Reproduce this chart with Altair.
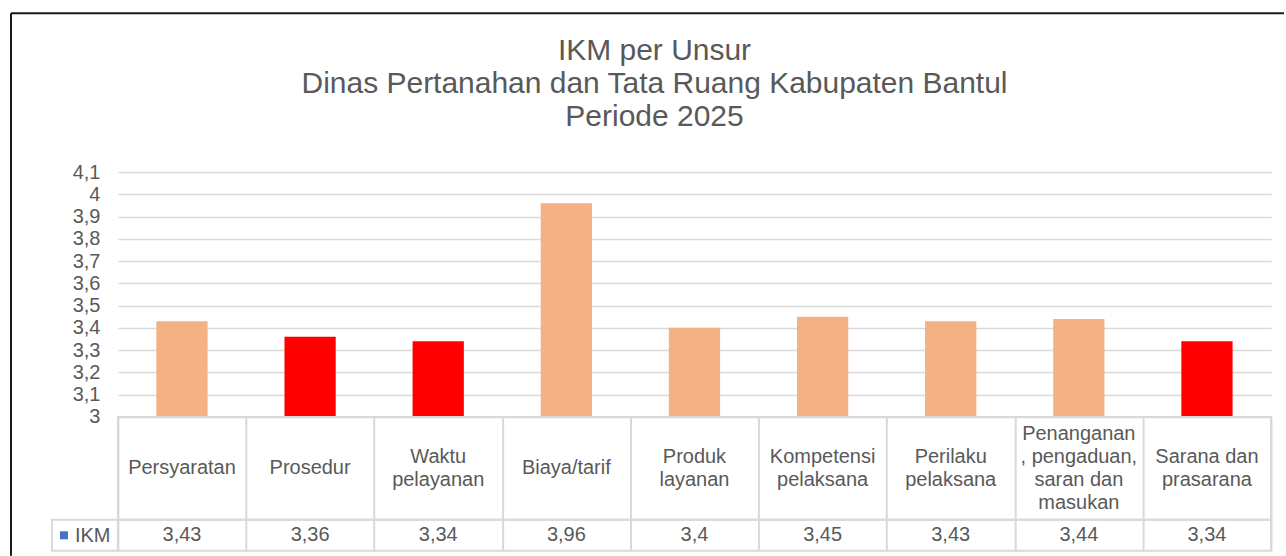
import altair as alt
import pandas as pd

# ---- data ----
unsur = ["Persyaratan", "Prosedur", "Waktu pelayanan", "Biaya/tarif", "Produk layanan",
         "Kompetensi pelaksana", "Perilaku pelaksana",
         "Penanganan, pengaduan, saran dan masukan", "Sarana dan prasarana"]
unsur_label = ["Persyaratan", "Prosedur", "Waktu\npelayanan", "Biaya/tarif", "Produk\nlayanan",
               "Kompetensi\npelaksana", "Perilaku\npelaksana",
               "Penanganan\n, pengaduan,\nsaran dan\nmasukan", "Sarana dan\nprasarana"]
nilai_ikm = [3.43, 3.36, 3.34, 3.96, 3.40, 3.45, 3.43, 3.44, 3.34]
seri = "IKM"
y_ticks = [3.0, 3.1, 3.2, 3.3, 3.4, 3.5, 3.6, 3.7, 3.8, 3.9, 4.0, 4.1]
judul = ["IKM  per Unsur", "Dinas Pertanahan dan Tata Ruang Kabupaten Bantul", "Periode 2025"]

df = pd.DataFrame({"unsur": unsur, "label": unsur_label, "nilai": nilai_ikm, "seri": seri})
one = alt.Data(values=[{}])

FONT = "Liberation Sans"
TXT = "#595959"
GRID = "#D9D9D9"
W = 1154
H_PLOT = 245
H_HEAD = 103
H_VAL = 31
LH = 23

# ---- bar chart ----
bars = alt.Chart(df).mark_bar().encode(
    x=alt.X("unsur:N", sort=unsur, axis=None,
            scale=alt.Scale(paddingInner=0.6, paddingOuter=0.3)),
    y=alt.Y("nilai:Q",
            scale=alt.Scale(domain=[3, 4.1], zero=False, nice=False),
            axis=alt.Axis(values=y_ticks,
                          labelExpr="replace(format(datum.value, '.1~f'), '.', ',')",
                          grid=True, gridColor=GRID, gridWidth=1.5,
                          domain=False, ticks=False, tickSize=0, labelPadding=18,
                          labelFontSize=20, labelColor=TXT, labelFont=FONT, title=None)),
    y2=alt.datum(3),
    color=alt.condition("datum.nilai < 3.4", alt.value("#FF0000"), alt.value("#F4B183")),
)

title_txt = alt.Chart(one).mark_text(
    font=FONT, fontSize=30, color=TXT, align="center", baseline="alphabetic", lineHeight=33
).encode(x=alt.value(537), y=alt.value(-112), text=alt.value(judul))

frame_left = alt.Chart(one).mark_rule(color="#1a1a1a", strokeWidth=2).encode(
    x=alt.value(-107), y=alt.value(-159), y2=alt.value(384))
frame_top = alt.Chart(one).mark_rule(color="#1a1a1a", strokeWidth=2).encode(
    x=alt.value(-107), x2=alt.value(1167), y=alt.value(-159))

top = alt.layer(frame_left, frame_top, bars, title_txt).properties(
    width=W, height=H_PLOT, view=alt.ViewBackground(stroke="transparent"))

# ---- data table: header row ----
x_cell = alt.X("unsur:N", sort=unsur, scale=alt.Scale(paddingInner=0, paddingOuter=0),
               axis=alt.Axis(grid=True, tickBand="extent", gridColor=GRID, gridWidth=2,
                             labels=False, ticks=False, domain=False, title=None))

header = alt.Chart(df).transform_calculate(
    baris="length(split(datum.label, '\\n'))"
).transform_calculate(
    ypos=f"{H_HEAD / 2} - (datum.baris - 1) * {LH} / 2"
).mark_text(
    lineBreak="\n", lineHeight=LH, fontSize=20, font=FONT, color=TXT,
    align="center", baseline="middle"
).encode(
    x=x_cell,
    y=alt.Y("ypos:Q", scale=alt.Scale(domain=[0, H_HEAD], reverse=True), axis=None),
    text="label:N",
).properties(width=W, height=H_HEAD, view=alt.ViewBackground(stroke=GRID, strokeWidth=2))

# ---- data table: value row ----
val_text = alt.Chart(df).transform_calculate(
    teks="replace(format(datum.nilai, '.2~f'), '.', ',')"
).mark_text(fontSize=20, font=FONT, color=TXT, align="center", baseline="middle").encode(
    x=x_cell,
    y=alt.Y("seri:N", axis=alt.Axis(title=None, domain=False, ticks=False, labelPadding=8,
                                     labelFontSize=20, labelFont=FONT, labelColor=TXT)),
    text="teks:N",
)
legend_cell = alt.Chart(one).mark_rect(fill="transparent", stroke=GRID, strokeWidth=2).encode(
    x=alt.value(-66), x2=alt.value(0), y=alt.value(0), y2=alt.value(H_VAL))
legend_key = alt.Chart(one).mark_point(shape="square", filled=True, size=64,
                                       color="#4472C4", opacity=1).encode(
    x=alt.value(-54), y=alt.value(H_VAL / 2))

vals = alt.layer(legend_cell, val_text, legend_key).properties(
    width=W, height=H_VAL, view=alt.ViewBackground(stroke=GRID, strokeWidth=2))

chart = alt.vconcat(top, header, vals, spacing=0, bounds="flush").properties(
    padding={"left": 9, "top": 11, "right": 0, "bottom": 0},
    background="white",
).configure_view(stroke="transparent")

chart.save("out.html", embed_options={"renderer": "svg", "actions": False})
